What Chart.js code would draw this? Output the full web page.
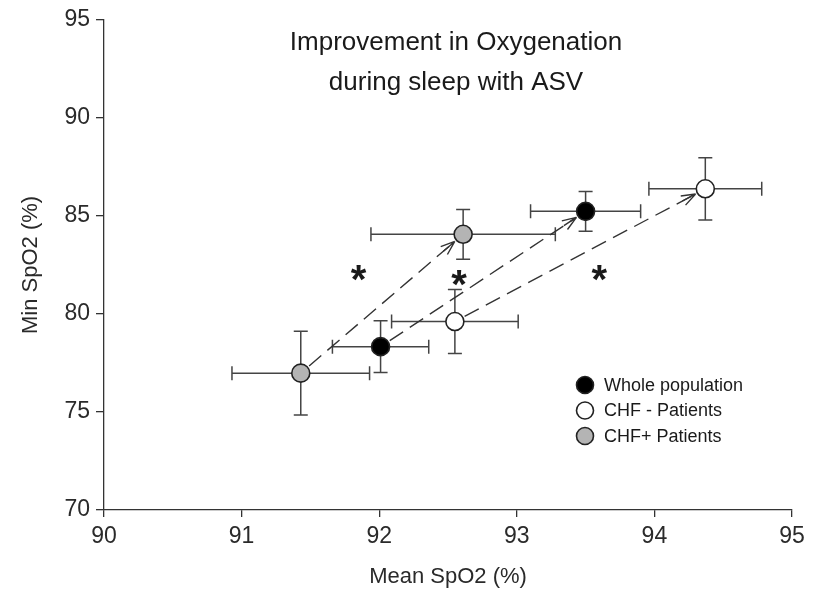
<!DOCTYPE html>
<html>
<head>
<meta charset="utf-8">
<script src="https://cdn.jsdelivr.net/npm/chart.js@4.4.1/dist/chart.umd.min.js"></script>
<style>
  html, body { margin: 0; padding: 0; background: #fff; }
  #wrap { width: 815px; height: 590px; }
</style>
</head>
<body>
<div id="wrap"><canvas id="Chart" width="815" height="590"></canvas></div>
<script>
// groups and their before / after ASV values (mean ± SD)
const groups = ['Whole population', 'CHF - Patients', 'CHF+ Patients'];
const groupColors = ['#000000', '#ffffff', '#b4b4b4'];

const meanBefore = [92.01, 92.55, 91.43];
const meanAfter = [93.50, 94.37, 92.61];
const minBefore = [78.33, 79.61, 76.98];
const minAfter = [85.23, 86.38, 84.06];

const meanSdBefore = [0.35, 0.46, 0.50];
const meanSdAfter = [0.40, 0.41, 0.67];
const minSdBefore = [1.32, 1.63, 2.13];
const minSdAfter = [1.01, 1.59, 1.27];

// significance stars
const starX = [91.85, 92.58, 93.60];
const starY = [82.15, 81.89, 82.15];

const xTicks = [90, 91, 92, 93, 94, 95];
const yTicks = [70, 75, 80, 85, 90, 95];

const titleLines = ['Improvement in Oxygenation', 'during sleep with ASV'];

const FONT = '"Liberation Sans", Arial, sans-serif';
const INK = '#2a2a2a';

const datasets = groups.map((g, i) => ({
  label: g,
  data: [
    { x: meanBefore[i], y: minBefore[i] },
    { x: meanAfter[i], y: minAfter[i] }
  ],
  backgroundColor: groupColors[i],
  borderColor: '#222',
  borderWidth: 1.6,
  pointRadius: 9,
  pointHoverRadius: 9,
  showLine: false
}));

// error bars + dashed arrows, drawn under the markers
const errorBars = {
  id: 'errorBars',
  beforeDatasetsDraw(chart) {
    const c = chart.ctx;
    const xs = chart.scales.x, ys = chart.scales.y;
    c.save();
    c.strokeStyle = '#444';
    c.lineWidth = 1.5;
    const cap = 7;
    const bar = (mx, my, sx, sy) => {
      const px = xs.getPixelForValue(mx), py = ys.getPixelForValue(my);
      const x1 = xs.getPixelForValue(mx - sx), x2 = xs.getPixelForValue(mx + sx);
      const y1 = ys.getPixelForValue(my - sy), y2 = ys.getPixelForValue(my + sy);
      c.beginPath();
      c.moveTo(x1, py); c.lineTo(x2, py);
      c.moveTo(x1, py - cap); c.lineTo(x1, py + cap);
      c.moveTo(x2, py - cap); c.lineTo(x2, py + cap);
      c.moveTo(px, y1); c.lineTo(px, y2);
      c.moveTo(px - cap, y1); c.lineTo(px + cap, y1);
      c.moveTo(px - cap, y2); c.lineTo(px + cap, y2);
      c.stroke();
    };
    groups.forEach((g, i) => {
      bar(meanBefore[i], minBefore[i], meanSdBefore[i], minSdBefore[i]);
      bar(meanAfter[i], minAfter[i], meanSdAfter[i], minSdAfter[i]);
    });

    // arrows
    c.strokeStyle = '#333';
    c.lineWidth = 1.4;
    groups.forEach((g, i) => {
      const ax = xs.getPixelForValue(meanBefore[i]), ay = ys.getPixelForValue(minBefore[i]);
      const bx = xs.getPixelForValue(meanAfter[i]), by = ys.getPixelForValue(minAfter[i]);
      const ang = Math.atan2(by - ay, bx - ax);
      const r = 11;
      const sx = ax + Math.cos(ang) * r, sy = ay + Math.sin(ang) * r;
      const ex = bx - Math.cos(ang) * r, ey = by - Math.sin(ang) * r;
      c.setLineDash([16, 8]);
      c.beginPath(); c.moveTo(sx, sy); c.lineTo(ex, ey); c.stroke();
      c.setLineDash([]);
      c.beginPath();
      [-0.35, 0.35, 0].forEach(d => {
        c.moveTo(ex, ey);
        c.lineTo(ex - Math.cos(ang + d) * 15, ey - Math.sin(ang + d) * 15);
      });
      c.stroke();
    });
    c.restore();
  },
  afterDraw(chart) {
    const c = chart.ctx;
    const xs = chart.scales.x, ys = chart.scales.y;
    c.save();
    // title
    c.fillStyle = '#1a1a1a';
    c.font = '26px ' + FONT;
    c.textAlign = 'center';
    c.textBaseline = 'alphabetic';
    c.fillText(titleLines[0], 456, 50);
    c.fillText(titleLines[1], 456, 90);

    // stars
    c.font = 'bold 40px ' + FONT;
    starX.forEach((sx, i) => {
      c.fillText('*', xs.getPixelForValue(sx), ys.getPixelForValue(starY[i]) + 21);
    });

    // legend
    c.textAlign = 'left';
    c.textBaseline = 'middle';
    c.font = '18px ' + FONT;
    groups.forEach((g, i) => {
      const y = 385 + i * 25.5;
      c.beginPath();
      c.arc(585, y, 8.5, 0, Math.PI * 2);
      c.fillStyle = groupColors[i];
      c.fill();
      c.lineWidth = 1.6;
      c.strokeStyle = '#222';
      c.stroke();
      c.fillStyle = '#1a1a1a';
      c.fillText(g, 604, y + 1);
    });
    c.restore();
  }
};

const ctx = document.getElementById('Chart').getContext('2d');
const chart = new Chart(ctx, {
  type: 'scatter',
  data: { datasets: datasets },
  options: {
    responsive: false,
    animation: false,
    layout: { padding: { top: 16, right: 23, left: 0, bottom: 0 } },
    plugins: {
      legend: { display: false },
      tooltip: { enabled: false }
    },
    scales: {
      x: {
        type: 'linear',
        min: 90, max: 95,
        afterBuildTicks: s => { s.ticks = xTicks.map(v => ({ value: v })); },
        afterFit: s => { s.height = 80; },
        grid: { display: true, drawOnChartArea: false, tickLength: 7, color: '#333', lineWidth: 1.3 },
        border: { display: true, color: '#333', width: 1.3 },
        ticks: { color: INK, font: { family: FONT, size: 23 }, padding: 6, maxRotation: 0 },
        title: { display: true, text: 'Mean SpO2 (%)', color: INK, font: { family: FONT, size: 22 }, padding: { top: 0, bottom: 0 } }
      },
      y: {
        type: 'linear',
        min: 70, max: 95,
        afterBuildTicks: s => { s.ticks = yTicks.map(v => ({ value: v })); },
        afterFit: s => { s.width = 104; },
        grid: { display: true, drawOnChartArea: false, tickLength: 8, color: '#333', lineWidth: 1.3 },
        border: { display: true, color: '#333', width: 1.3 },
        ticks: { color: INK, font: { family: FONT, size: 23 }, padding: 6 },
        title: { display: true, text: 'Min SpO2 (%)', color: INK, font: { family: FONT, size: 22 }, padding: { top: 18, bottom: 0 } }
      }
    }
  },
  plugins: [errorBars]
});
</script>
</body>
</html>
